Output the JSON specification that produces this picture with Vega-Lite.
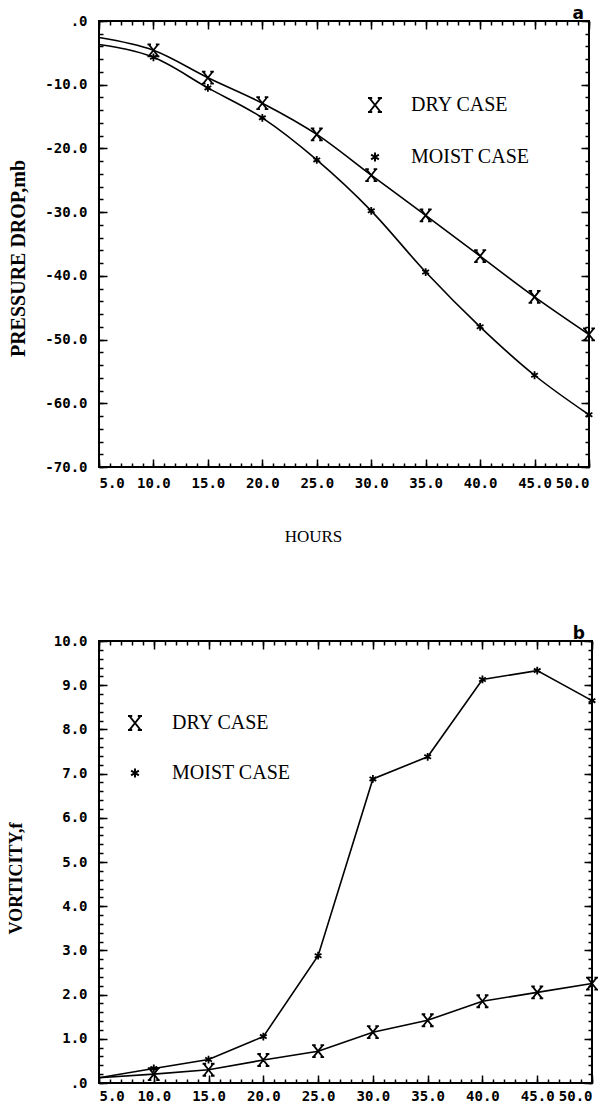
{
  "$schema": "https://vega.github.io/schema/vega-lite/v6.json",
  "background": "white",
  "padding": {"left": 6, "top": 4, "right": 0, "bottom": 0},
  "spacing": 79,
  "datasets": {
    "pressure": [
      {"hours": 5, "case": "DRY CASE", "value": -2.6},
      {"hours": 10, "case": "DRY CASE", "value": -4.6},
      {"hours": 15, "case": "DRY CASE", "value": -8.9},
      {"hours": 20, "case": "DRY CASE", "value": -12.9},
      {"hours": 25, "case": "DRY CASE", "value": -17.8},
      {"hours": 30, "case": "DRY CASE", "value": -24.2},
      {"hours": 35, "case": "DRY CASE", "value": -30.5},
      {"hours": 40, "case": "DRY CASE", "value": -36.9},
      {"hours": 45, "case": "DRY CASE", "value": -43.3},
      {"hours": 50, "case": "DRY CASE", "value": -49.2},
      {"hours": 5, "case": "MOIST CASE", "value": -3.7},
      {"hours": 10, "case": "MOIST CASE", "value": -5.7},
      {"hours": 15, "case": "MOIST CASE", "value": -10.5},
      {"hours": 20, "case": "MOIST CASE", "value": -15.2},
      {"hours": 25, "case": "MOIST CASE", "value": -21.8},
      {"hours": 30, "case": "MOIST CASE", "value": -29.8},
      {"hours": 35, "case": "MOIST CASE", "value": -39.4},
      {"hours": 40, "case": "MOIST CASE", "value": -48.0},
      {"hours": 45, "case": "MOIST CASE", "value": -55.6},
      {"hours": 50, "case": "MOIST CASE", "value": -61.8}
    ],
    "vorticity": [
      {"hours": 5, "case": "DRY CASE", "value": 0.12},
      {"hours": 10, "case": "DRY CASE", "value": 0.2},
      {"hours": 15, "case": "DRY CASE", "value": 0.3},
      {"hours": 20, "case": "DRY CASE", "value": 0.52},
      {"hours": 25, "case": "DRY CASE", "value": 0.72},
      {"hours": 30, "case": "DRY CASE", "value": 1.15},
      {"hours": 35, "case": "DRY CASE", "value": 1.42},
      {"hours": 40, "case": "DRY CASE", "value": 1.85},
      {"hours": 45, "case": "DRY CASE", "value": 2.05},
      {"hours": 50, "case": "DRY CASE", "value": 2.25},
      {"hours": 5, "case": "MOIST CASE", "value": 0.12},
      {"hours": 10, "case": "MOIST CASE", "value": 0.33},
      {"hours": 15, "case": "MOIST CASE", "value": 0.53},
      {"hours": 20, "case": "MOIST CASE", "value": 1.05},
      {"hours": 25, "case": "MOIST CASE", "value": 2.88},
      {"hours": 30, "case": "MOIST CASE", "value": 6.88},
      {"hours": 35, "case": "MOIST CASE", "value": 7.38},
      {"hours": 40, "case": "MOIST CASE", "value": 9.13},
      {"hours": 45, "case": "MOIST CASE", "value": 9.33},
      {"hours": 50, "case": "MOIST CASE", "value": 8.65}
    ]
  },
  "resolve": {"scale": {"shape": "independent"}, "legend": {"shape": "independent"}},
  "vconcat": [
    {
      "width": 490,
      "height": 446,
      "title": {"text": "a", "anchor": "end", "frame": "group", "font": "DejaVu Sans", "fontSize": 17, "fontWeight": "bold", "color": "black", "offset": -9, "dx": -5},
      "data": {"name": "pressure"},
      "resolve": {"axis": {"x": "independent", "y": "independent"}},
      "layer": [
        {
          "transform": [{"filter": "datum.case == 'DRY CASE'"}],
          "mark": {"type": "line", "color": "black", "strokeWidth": 1.6, "interpolate": "monotone"},
          "encoding": {
            "x": {"field": "hours", "type": "quantitative", "scale": {"domain": [5, 50], "nice": false, "zero": false},
              "axis": {"orient": "bottom", "values": [5, 10, 15, 20, 25, 30, 35, 40, 45, 50], "tickSize": -8, "labelPadding": 17,
                "labelExpr": "datum.value == 0 ? '.0' : (datum.value < 0 ? '-' : '') + format(abs(datum.value), '.1f')",
                "title": "HOURS", "titleFont": "Liberation Serif", "titleFontSize": 17, "titleFontWeight": "normal", "titlePadding": 38, "titleX": 214}},
            "y": {"field": "value", "type": "quantitative", "scale": {"domain": [-70, 0], "nice": false, "zero": false},
              "axis": {"orient": "left", "values": [0, -10, -20, -30, -40, -50, -60, -70], "tickSize": -8, "labelPadding": 20,
                "labelExpr": "datum.value == 0 ? '.0' : (datum.value < 0 ? '-' : '') + format(abs(datum.value), '.1f')",
                "title": "PRESSURE DROP,mb", "titleFont": "Liberation Serif", "titleFontSize": 20, "titleFontWeight": "bold", "titlePadding": 16, "titleY": 237}}
          }
        },
        {
          "transform": [{"filter": "datum.case == 'MOIST CASE'"}],
          "mark": {"type": "line", "color": "black", "strokeWidth": 1.6, "interpolate": "monotone"},
          "encoding": {
            "x": {"field": "hours", "type": "quantitative", "scale": {"domain": [5, 50], "nice": false, "zero": false},
              "axis": {"orient": "top", "values": [5, 10, 15, 20, 25, 30, 35, 40, 45, 50], "tickSize": -8, "labels": false, "title": null}},
            "y": {"field": "value", "type": "quantitative", "scale": {"domain": [-70, 0], "nice": false, "zero": false},
              "axis": {"orient": "right", "values": [0, -10, -20, -30, -40, -50, -60, -70], "tickSize": -8, "labels": false, "title": null}}
          }
        },
        {
          "transform": [{"filter": "datum.case == 'DRY CASE' && datum.hours > 5"}],
          "mark": {"type": "point", "filled": false, "color": "black", "strokeWidth": 1.8, "size": 144, "opacity": 1},
          "encoding": {
            "x": {"field": "hours", "type": "quantitative", "scale": {"domain": [5, 50], "nice": false, "zero": false},
              "axis": {"orient": "bottom", "values": [5,6,7,8,9,10,11,12,13,14,15,16,17,18,19,20,21,22,23,24,25,26,27,28,29,30,31,32,33,34,35,36,37,38,39,40,41,42,43,44,45,46,47,48,49,50], "tickSize": -4, "labels": false, "title": null}},
            "y": {"field": "value", "type": "quantitative", "scale": {"domain": [-70, 0], "nice": false, "zero": false},
              "axis": {"orient": "left", "values": [0,-2,-4,-6,-8,-10,-12,-14,-16,-18,-20,-22,-24,-26,-28,-30,-32,-34,-36,-38,-40,-42,-44,-46,-48,-50,-52,-54,-56,-58,-60,-62,-64,-66,-68,-70], "tickSize": -4, "labels": false, "title": null}},
            "shape": {"field": "case", "type": "nominal",
              "scale": {"domain": ["DRY CASE", "MOIST CASE"], "range": ["M-0.8,-1L0.8,1M0.8,-1L-0.8,1M-1,-1H-0.4M0.4,-1H1M-1,1H-0.4M0.4,1H1", "M0,-0.65L0,0.65M-0.56,-0.33L0.56,0.33M-0.56,0.33L0.56,-0.33"]},
              "legend": {"orient": "none", "legendX": 266, "legendY": 74, "title": null, "labelFont": "Liberation Serif", "labelFontSize": 20, "labelColor": "black", "symbolStrokeColor": "black", "symbolFillColor": "transparent", "symbolStrokeWidth": 2, "symbolSize": 196, "rowPadding": 31, "labelOffset": 26, "padding": 0}}
          }
        },
        {
          "transform": [{"filter": "datum.case == 'MOIST CASE' && datum.hours > 5"}],
          "mark": {"type": "point", "filled": false, "color": "black", "strokeWidth": 1.8, "size": 144, "opacity": 1},
          "encoding": {
            "x": {"field": "hours", "type": "quantitative", "scale": {"domain": [5, 50], "nice": false, "zero": false},
              "axis": {"orient": "top", "values": [5,6,7,8,9,10,11,12,13,14,15,16,17,18,19,20,21,22,23,24,25,26,27,28,29,30,31,32,33,34,35,36,37,38,39,40,41,42,43,44,45,46,47,48,49,50], "tickSize": -4, "labels": false, "title": null}},
            "y": {"field": "value", "type": "quantitative", "scale": {"domain": [-70, 0], "nice": false, "zero": false},
              "axis": {"orient": "right", "values": [0,-2,-4,-6,-8,-10,-12,-14,-16,-18,-20,-22,-24,-26,-28,-30,-32,-34,-36,-38,-40,-42,-44,-46,-48,-50,-52,-54,-56,-58,-60,-62,-64,-66,-68,-70], "tickSize": -4, "labels": false, "title": null}},
            "shape": {"field": "case", "type": "nominal",
              "scale": {"domain": ["DRY CASE", "MOIST CASE"], "range": ["M-0.8,-1L0.8,1M0.8,-1L-0.8,1M-1,-1H-0.4M0.4,-1H1M-1,1H-0.4M0.4,1H1", "M0,-0.65L0,0.65M-0.56,-0.33L0.56,0.33M-0.56,0.33L0.56,-0.33"]},
              "legend": {"orient": "none", "legendX": 266, "legendY": 74, "title": null, "labelFont": "Liberation Serif", "labelFontSize": 20, "labelColor": "black", "symbolStrokeColor": "black", "symbolFillColor": "transparent", "symbolStrokeWidth": 2, "symbolSize": 196, "rowPadding": 31, "labelOffset": 26, "padding": 0}}
          }
        }
      ]
    },
    {
      "width": 493,
      "height": 442,
      "title": {"text": "b", "anchor": "end", "frame": "group", "font": "DejaVu Sans", "fontSize": 17, "fontWeight": "bold", "color": "black", "offset": -9, "dx": -7},
      "data": {"name": "vorticity"},
      "resolve": {"axis": {"x": "independent", "y": "independent"}},
      "layer": [
        {
          "transform": [{"filter": "datum.case == 'DRY CASE'"}],
          "mark": {"type": "line", "color": "black", "strokeWidth": 1.6},
          "encoding": {
            "x": {"field": "hours", "type": "quantitative", "scale": {"domain": [5, 50], "nice": false, "zero": false},
              "axis": {"orient": "bottom", "values": [5, 10, 15, 20, 25, 30, 35, 40, 45, 50], "tickSize": -8, "labelPadding": 14,
                "labelExpr": "datum.value == 0 ? '.0' : (datum.value < 0 ? '-' : '') + format(abs(datum.value), '.1f')",
                "title": null}},
            "y": {"field": "value", "type": "quantitative", "scale": {"domain": [0, 10], "nice": false, "zero": false},
              "axis": {"orient": "left", "values": [0, 1, 2, 3, 4, 5, 6, 7, 8, 9, 10], "tickSize": -8, "labelPadding": 20,
                "labelExpr": "datum.value == 0 ? '.0' : (datum.value < 0 ? '-' : '') + format(abs(datum.value), '.1f')",
                "title": "VORTICITY,f", "titleFont": "Liberation Serif", "titleFontSize": 18, "titleFontWeight": "bold", "titlePadding": 28, "titleY": 237}}
          }
        },
        {
          "transform": [{"filter": "datum.case == 'MOIST CASE'"}],
          "mark": {"type": "line", "color": "black", "strokeWidth": 1.6},
          "encoding": {
            "x": {"field": "hours", "type": "quantitative", "scale": {"domain": [5, 50], "nice": false, "zero": false},
              "axis": {"orient": "top", "values": [5, 10, 15, 20, 25, 30, 35, 40, 45, 50], "tickSize": -8, "labels": false, "title": null}},
            "y": {"field": "value", "type": "quantitative", "scale": {"domain": [0, 10], "nice": false, "zero": false},
              "axis": {"orient": "right", "values": [0, 1, 2, 3, 4, 5, 6, 7, 8, 9, 10], "tickSize": -8, "labels": false, "title": null}}
          }
        },
        {
          "transform": [{"filter": "datum.case == 'DRY CASE' && datum.hours > 5"}],
          "mark": {"type": "point", "filled": false, "color": "black", "strokeWidth": 1.8, "size": 144, "opacity": 1},
          "encoding": {
            "x": {"field": "hours", "type": "quantitative", "scale": {"domain": [5, 50], "nice": false, "zero": false},
              "axis": {"orient": "bottom", "values": [5,6,7,8,9,10,11,12,13,14,15,16,17,18,19,20,21,22,23,24,25,26,27,28,29,30,31,32,33,34,35,36,37,38,39,40,41,42,43,44,45,46,47,48,49,50], "tickSize": -4, "labels": false, "title": null}},
            "y": {"field": "value", "type": "quantitative", "scale": {"domain": [0, 10], "nice": false, "zero": false},
              "axis": {"orient": "left", "values": [0,0.2,0.4,0.6,0.8,1,1.2,1.4,1.6,1.8,2,2.2,2.4,2.6,2.8,3,3.2,3.4,3.6,3.8,4,4.2,4.4,4.6,4.8,5,5.2,5.4,5.6,5.8,6,6.2,6.4,6.6,6.8,7,7.2,7.4,7.6,7.8,8,8.2,8.4,8.6,8.8,9,9.2,9.4,9.6,9.8,10], "tickSize": -4, "labels": false, "title": null}},
            "shape": {"field": "case", "type": "nominal",
              "scale": {"domain": ["DRY CASE", "MOIST CASE"], "range": ["M-0.8,-1L0.8,1M0.8,-1L-0.8,1M-1,-1H-0.4M0.4,-1H1M-1,1H-0.4M0.4,1H1", "M0,-0.65L0,0.65M-0.56,-0.33L0.56,0.33M-0.56,0.33L0.56,-0.33"]},
              "legend": {"orient": "none", "legendX": 26, "legendY": 72, "title": null, "labelFont": "Liberation Serif", "labelFontSize": 20, "labelColor": "black", "symbolStrokeColor": "black", "symbolFillColor": "transparent", "symbolStrokeWidth": 2, "symbolSize": 196, "rowPadding": 29, "labelOffset": 27, "padding": 0}}
          }
        },
        {
          "transform": [{"filter": "datum.case == 'MOIST CASE' && datum.hours > 5"}],
          "mark": {"type": "point", "filled": false, "color": "black", "strokeWidth": 1.8, "size": 144, "opacity": 1},
          "encoding": {
            "x": {"field": "hours", "type": "quantitative", "scale": {"domain": [5, 50], "nice": false, "zero": false},
              "axis": {"orient": "top", "values": [5,6,7,8,9,10,11,12,13,14,15,16,17,18,19,20,21,22,23,24,25,26,27,28,29,30,31,32,33,34,35,36,37,38,39,40,41,42,43,44,45,46,47,48,49,50], "tickSize": -4, "labels": false, "title": null}},
            "y": {"field": "value", "type": "quantitative", "scale": {"domain": [0, 10], "nice": false, "zero": false},
              "axis": {"orient": "right", "values": [0,0.2,0.4,0.6,0.8,1,1.2,1.4,1.6,1.8,2,2.2,2.4,2.6,2.8,3,3.2,3.4,3.6,3.8,4,4.2,4.4,4.6,4.8,5,5.2,5.4,5.6,5.8,6,6.2,6.4,6.6,6.8,7,7.2,7.4,7.6,7.8,8,8.2,8.4,8.6,8.8,9,9.2,9.4,9.6,9.8,10], "tickSize": -4, "labels": false, "title": null}},
            "shape": {"field": "case", "type": "nominal",
              "scale": {"domain": ["DRY CASE", "MOIST CASE"], "range": ["M-0.8,-1L0.8,1M0.8,-1L-0.8,1M-1,-1H-0.4M0.4,-1H1M-1,1H-0.4M0.4,1H1", "M0,-0.65L0,0.65M-0.56,-0.33L0.56,0.33M-0.56,0.33L0.56,-0.33"]},
              "legend": {"orient": "none", "legendX": 26, "legendY": 72, "title": null, "labelFont": "Liberation Serif", "labelFontSize": 20, "labelColor": "black", "symbolStrokeColor": "black", "symbolFillColor": "transparent", "symbolStrokeWidth": 2, "symbolSize": 196, "rowPadding": 29, "labelOffset": 27, "padding": 0}}
          }
        }
      ]
    }
  ],
  "config": {
    "view": {"stroke": "black", "strokeWidth": 2},
    "axis": {"domain": false, "grid": false, "tickColor": "black", "tickWidth": 1.5, "labelColor": "black", "titleColor": "black",
      "labelFont": "DejaVu Sans Mono", "labelFontSize": 14, "labelFontWeight": "bold"}
  }
}
